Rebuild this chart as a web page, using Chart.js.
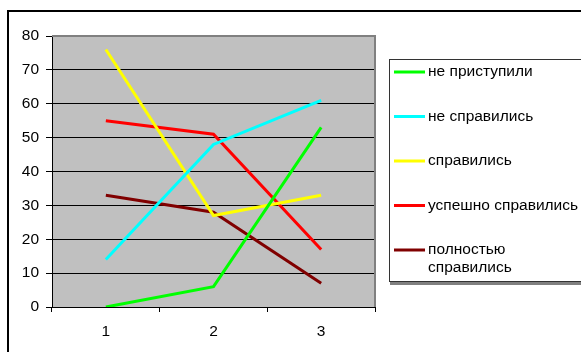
<!DOCTYPE html>
<html>
<head>
<meta charset="utf-8">
<script src="https://cdn.jsdelivr.net/npm/chart.js@4/dist/chart.umd.min.js"></script>
<style>
  html, body { margin: 0; padding: 0; background: #fff; }
  #wrap { width: 581px; height: 352px; }
</style>
</head>
<body>
<div id="wrap"><canvas id="grafico" width="581" height="352"></canvas></div>
<script>
// datos
const categorias = ['1', '2', '3'];
const noPristupili = [0, 6, 53];
const neSpravilis = [14, 48, 61];
const spravilis = [76, 27, 33];
const uspeshno = [55, 51, 17];
const polnostyu = [33, 28, 7];
const etiquetas = ['не приступили', 'не справились', 'справились', 'успешно справились', 'полностью\nсправились'];
const colores = ['#00ff00', '#00ffff', '#ffff00', '#ff0000', '#800000'];
const series = [noPristupili, neSpravilis, spravilis, uspeshno, polnostyu];

const fuente = 'Arial, "Liberation Sans", sans-serif';

// marco exterior, fondo gris del area y leyenda propia
const marcoPlugin = {
  id: 'marco',
  beforeDraw(chart) {
    const ctx = chart.ctx;
    const a = chart.chartArea;
    ctx.save();
    ctx.fillStyle = '#fff';
    ctx.fillRect(0, 0, chart.width, chart.height);
    ctx.strokeStyle = '#000';
    ctx.lineWidth = 2;
    ctx.strokeRect(8, 11, chart.width + 20, chart.height + 20);
    ctx.fillStyle = '#c0c0c0';
    ctx.fillRect(a.left, a.top, a.right - a.left, a.bottom - a.top);
    ctx.restore();
  },
  beforeDatasetsDraw(chart) {
    const ctx = chart.ctx;
    const a = chart.chartArea;
    ctx.save();
    ctx.strokeStyle = '#808080';
    ctx.lineWidth = 2;
    ctx.beginPath();
    ctx.moveTo(a.left, a.top);
    ctx.lineTo(a.right, a.top);
    ctx.lineTo(a.right, a.bottom);
    ctx.stroke();
    ctx.restore();
  },
  afterDraw(chart) {
    const ctx = chart.ctx;
    ctx.save();
    // caja de leyenda
    ctx.fillStyle = '#808080';
    ctx.fillRect(390, 282, 200, 3);
    ctx.strokeStyle = '#333';
    ctx.lineWidth = 1;
    ctx.strokeRect(389.5, 59.5, 200, 222);
    ctx.font = '15.5px ' + fuente;
    ctx.textBaseline = 'middle';
    ctx.fillStyle = '#000';
    chart.data.datasets.forEach((ds, i) => {
      const y = 72 + i * 44.5;
      ctx.strokeStyle = ds.borderColor;
      ctx.lineWidth = 3;
      ctx.beginPath();
      ctx.moveTo(394, y);
      ctx.lineTo(425, y);
      ctx.stroke();
      ds.label.split('\n').forEach((linea, j) => {
        ctx.fillText(linea, 428, y + j * 18);
      });
    });
    ctx.restore();
  }
};

new Chart(document.getElementById('grafico'), {
  type: 'line',
  data: {
    labels: categorias,
    datasets: series.map((valores, i) => ({
      label: etiquetas[i],
      data: valores,
      borderColor: colores[i],
      backgroundColor: colores[i],
      borderWidth: 3,
      pointRadius: 0,
      tension: 0,
      fill: false
    }))
  },
  options: {
    responsive: false,
    animation: false,
    layout: { padding: { left: 0, top: 36, right: 206, bottom: 0 } },
    plugins: { legend: { display: false }, tooltip: { enabled: false } },
    scales: {
      x: {
        offset: true,
        afterFit(s) { s.height = 45; },
        grid: { offset: true, drawOnChartArea: false, drawTicks: true, tickLength: 5, color: '#000' },
        border: { color: '#000', width: 1 },
        ticks: { color: '#000', font: { size: 15.5, family: fuente }, padding: 10, maxRotation: 0 }
      },
      y: {
        min: 0,
        max: 80,
        afterFit(s) { s.width = 52; },
        grid: {
          color: ctx => ctx.tick && ctx.tick.value === 80 ? '#808080' : '#000',
          tickColor: '#000',
          tickLength: 6
        },
        border: { color: '#000', width: 1 },
        ticks: { stepSize: 10, color: '#000', font: { size: 15.5, family: fuente }, padding: 7 }
      }
    }
  },
  plugins: [marcoPlugin]
});
</script>
</body>
</html>
